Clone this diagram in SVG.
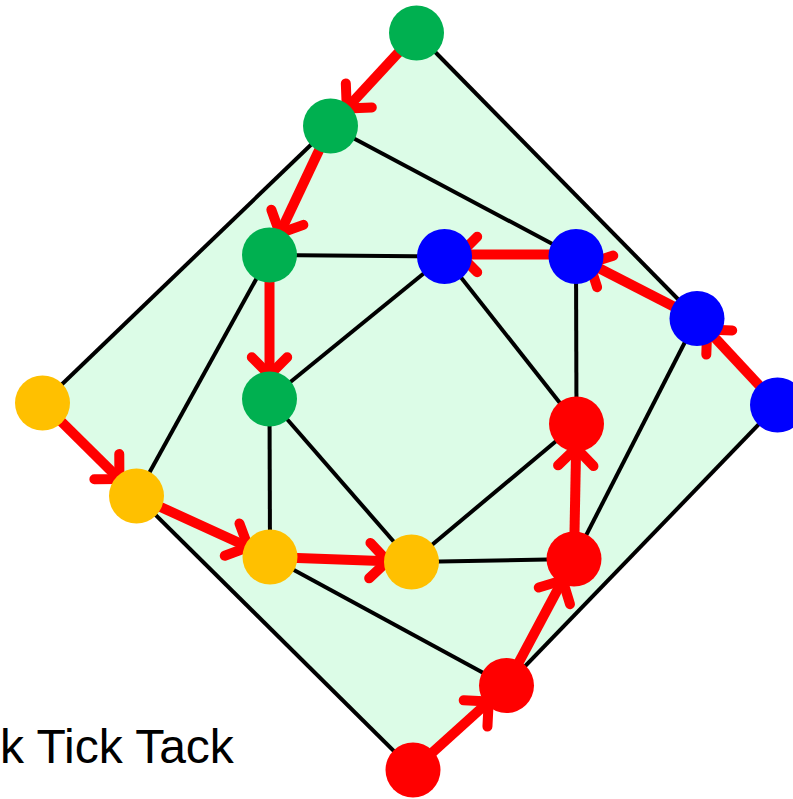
<svg xmlns="http://www.w3.org/2000/svg" width="793" height="799" viewBox="0 0 793 799">
  <style>
    .face { fill: #dcfce7; stroke: none; }
    .edge { stroke: #000; stroke-width: 4; fill: none; }
    .arc { stroke: #ff0000; stroke-width: 10; fill: none; marker-end: url(#head); }
    .node { stroke: none; }
    .g { fill: #00b050; }
    .b { fill: #0000ff; }
    .y { fill: #ffc000; }
    .r { fill: #ff0000; }
    .label { font-family: "Liberation Sans", Arial, sans-serif; font-size: 48px; fill: #000; }
  </style>
  <defs>
    <marker id="head" markerUnits="userSpaceOnUse" orient="auto" refX="0" refY="0"
            markerWidth="60" markerHeight="60" viewBox="-30 -30 60 60" overflow="visible">
      <path d="M-17.7,-17.7 L0,0 L-17.7,17.7" fill="none" stroke="#ff0000" stroke-width="10"
            stroke-linecap="round" stroke-linejoin="round"/>
    </marker>
  </defs>

  <!-- outer face -->
  <polygon class="face" points="416.5,33 697,318.5 777.5,405 506.5,685.5 413,770 136.5,496 42.5,403 330.5,126"/>

  <g id="connectors">
    <!-- plain edges -->
    <line class="edge" x1="416.5" y1="33" x2="697" y2="318.5"/>
    <line class="edge" x1="777.5" y1="405" x2="506.5" y2="685.5"/>
    <line class="edge" x1="413" y1="770" x2="136.5" y2="496"/>
    <line class="edge" x1="42.5" y1="403" x2="330.5" y2="126"/>
    <line class="edge" x1="330.5" y1="126" x2="576" y2="256.5"/>
    <line class="edge" x1="269.5" y1="255" x2="444.5" y2="256.5"/>
    <line class="edge" x1="269.5" y1="255" x2="136.5" y2="496"/>
    <line class="edge" x1="269.5" y1="399" x2="444.5" y2="256.5"/>
    <line class="edge" x1="269.5" y1="399" x2="270" y2="557"/>
    <line class="edge" x1="269.5" y1="399" x2="411.5" y2="562"/>
    <line class="edge" x1="444.5" y1="256.5" x2="576.5" y2="424"/>
    <line class="edge" x1="576" y1="256.5" x2="576.5" y2="424"/>
    <line class="edge" x1="697" y1="318.5" x2="574" y2="559"/>
    <line class="edge" x1="270" y1="557" x2="506.5" y2="685.5"/>
    <line class="edge" x1="411.5" y1="562" x2="576.5" y2="424"/>
    <line class="edge" x1="411.5" y1="562" x2="574" y2="559"/>

    <!-- directed path edges -->
    <line class="arc" x1="416.5" y1="33" x2="346.8" y2="108.4"/>
    <line class="arc" x1="330.5" y1="126" x2="279.8" y2="233.3"/>
    <line class="arc" x1="269.5" y1="255" x2="269.5" y2="375"/>
    <line class="arc" x1="576" y1="254.5" x2="459.5" y2="254.5"/>
    <line class="arc" x1="697" y1="318.5" x2="589.4" y2="263.3"/>
    <line class="arc" x1="777.5" y1="405" x2="707.2" y2="329.5"/>
    <line class="arc" x1="42.5" y1="403" x2="119.4" y2="479.1"/>
    <line class="arc" x1="136.5" y1="496" x2="248.2" y2="547"/>
    <line class="arc" x1="270" y1="557" x2="387.5" y2="561.2"/>
    <line class="arc" x1="413" y1="770" x2="488.7" y2="701.6"/>
    <line class="arc" x1="506.5" y1="685.5" x2="562.7" y2="580.2"/>
    <line class="arc" x1="574" y1="559" x2="576.1" y2="448"/>
  </g>

  <g id="G1"><circle class="node g" cx="416.5" cy="33" r="27.5"/></g>
  <g id="G2"><circle class="node g" cx="330.5" cy="126" r="27.5"/></g>
  <g id="G3"><circle class="node g" cx="269.5" cy="255" r="27.5"/></g>
  <g id="G4"><circle class="node g" cx="269.5" cy="399" r="27.5"/></g>

  <g id="B1"><circle class="node b" cx="444.5" cy="256.5" r="27.5"/></g>
  <g id="B2"><circle class="node b" cx="576" cy="256.5" r="27.5"/></g>
  <g id="B3"><circle class="node b" cx="697" cy="318.5" r="27.5"/></g>
  <g id="B4"><circle class="node b" cx="777.5" cy="405" r="27.5"/></g>

  <g id="Y1"><circle class="node y" cx="42.5" cy="403" r="27.5"/></g>
  <g id="Y2"><circle class="node y" cx="136.5" cy="496" r="27.5"/></g>
  <g id="Y3"><circle class="node y" cx="270" cy="557" r="27.5"/></g>
  <g id="Y4"><circle class="node y" cx="411.5" cy="562" r="27.5"/></g>

  <g id="R1"><circle class="node r" cx="576.5" cy="424" r="27.5"/></g>
  <g id="R2"><circle class="node r" cx="574" cy="559" r="27.5"/></g>
  <g id="R3"><circle class="node r" cx="506.5" cy="685.5" r="27.5"/></g>
  <g id="R4"><circle class="node r" cx="413" cy="770" r="27.5"/></g>

  <text class="label" x="0" y="763">k Tick Tack</text>
</svg>
